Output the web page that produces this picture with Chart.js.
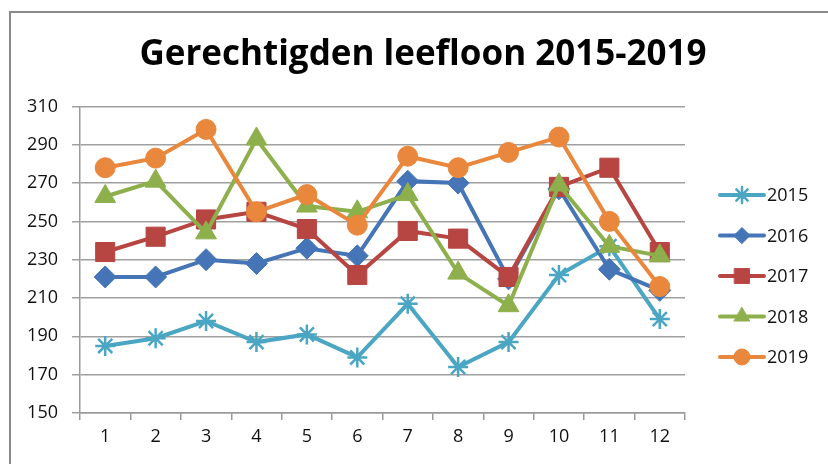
<!DOCTYPE html>
<html>
<head>
<meta charset="utf-8">
<script src="https://cdn.jsdelivr.net/npm/chart.js@4"></script>
<style>
  body { margin: 0; background: #fff; }
  #wrap { position: relative; width: 828px; height: 464px; }
  #frame { position: absolute; left: 9px; top: 11px; right: -10px; bottom: -10px; border-left: 2px solid #8a8a8a; border-top: 2px solid #8a8a8a; }
  canvas { position: absolute; left: 0; top: 0; }
</style>
</head>
<body>
<div id="wrap">
  <div id="frame"></div>
  <canvas id="canvas" width="828" height="464"></canvas>
</div>
<script>
var months = ["1", "2", "3", "4", "5", "6", "7", "8", "9", "10", "11", "12"];
var seriesNames = ["2015", "2016", "2017", "2018", "2019"];
var v2015 = [185, 189, 198, 187, 191, 179, 207, 174, 187, 222, 237, 199];
var v2016 = [221, 221, 230, 228, 236, 232, 271, 270, 220, 267, 225, 214];
var v2017 = [234, 242, 251, 255, 246, 222, 245, 241, 221, 268, 278, 234];
var v2018 = [263, 271, 244, 293, 258, 255, 264, 223, 206, 269, 237, 232];
var v2019 = [278, 283, 298, 255, 264, 248, 284, 278, 286, 294, 250, 216];
var yTicks = [150, 170, 190, 210, 230, 250, 270, 290, 310];
var chartTitle = 'Gerechtigden leefloon 2015-2019';

var colors = ['#4AA6C2', '#4575B6', '#B74542', '#8DB04C', '#E9873C'];
var markers = ['star', 'rectRot', 'rect', 'triangle', 'circle'];
var radii = [10, 11, 13.5, 12, 10];
var legendRadii = [8, 8, 10.5, 9, 8];
var values = [v2015, v2016, v2017, v2018, v2019];

var datasets = seriesNames.map(function (name, i) {
    return {
        label: name,
        data: values[i],
        borderColor: colors[i],
        backgroundColor: colors[i],
        pointBackgroundColor: colors[i],
        pointBorderColor: colors[i],
        pointStyle: markers[i],
        pointRadius: radii[i],
        pointBorderWidth: i == 0 ? 2.5 : 1,
        borderWidth: 4,
        tension: 0,
        order: 5 - i
    };
});

// title drawn by hand so it sits centred like the office chart
var titlePlugin = {
    id: 'bigTitle',
    afterDraw: function (chart) {
        var ctx = chart.ctx;
        ctx.save();
        ctx.fillStyle = '#000';
        ctx.font = 'bold 35px "Open Sans"';
        ctx.textAlign = 'center';
        ctx.textBaseline = 'middle';
        ctx.fillText(chartTitle, 423, 55);
        ctx.restore();
    }
};

// legend drawn as line + marker
var legendPlugin = {
    id: 'lineLegend',
    afterDraw: function (chart) {
        var ctx = chart.ctx;
        ctx.save();
        chart.data.datasets.forEach(function (ds, i) {
            var y = 195 + i * 40.5;
            ctx.strokeStyle = ds.borderColor;
            ctx.lineWidth = 4;
            ctx.lineCap = 'round';
            ctx.beginPath();
            ctx.moveTo(720, y);
            ctx.lineTo(764, y);
            ctx.stroke();
            ctx.fillStyle = ds.backgroundColor;
            ctx.lineWidth = ds.pointBorderWidth;
            Chart.helpers.drawPoint(ctx, { pointStyle: ds.pointStyle, radius: legendRadii[i], borderWidth: ds.pointBorderWidth }, 742, y);
            ctx.fillStyle = '#111';
            ctx.font = '18px "Open Sans"';
            ctx.textBaseline = 'middle';
            ctx.textAlign = 'left';
            ctx.fillText(ds.label, 767, y + 1);
        });
        ctx.restore();
    }
};

var config = {
    type: 'line',
    data: {
        labels: months,
        datasets: datasets
    },
    options: {
        responsive: false,
        animation: false,
        layout: { padding: { left: 0, right: 143, top: 0, bottom: 0 } },
        plugins: {
            legend: { display: false },
            tooltip: { enabled: false },
            title: {
                display: true,
                text: chartTitle,
                color: 'rgba(0,0,0,0)',
                font: { family: '"Open Sans"', size: 32, weight: 'bold', lineHeight: 1.2 },
                padding: { top: 34, bottom: 34 }
            }
        },
        scales: {
            x: {
                offset: true,
                grid: { offset: true, drawOnChartArea: false, drawTicks: true, tickLength: 7, color: '#9a9a9a', lineWidth: 1.5 },
                border: { display: true, color: '#9a9a9a', width: 1.5 },
                ticks: { color: '#111', font: { family: '"Open Sans"', size: 18 }, padding: 6, maxRotation: 0 },
                afterFit: function (scale) { scale.height = 51; }
            },
            y: {
                min: 150,
                max: 310,
                afterBuildTicks: function (scale) {
                    scale.ticks = yTicks.map(function (v) { return { value: v }; });
                },
                grid: { color: '#a0a0a0', lineWidth: 1.5, tickLength: 8 },
                border: { display: true, color: '#9a9a9a', width: 1.5 },
                ticks: { color: '#111', font: { family: '"Open Sans"', size: 18 }, padding: 14 },
                afterFit: function (scale) { scale.width = 80; }
            }
        }
    },
    plugins: [titlePlugin, legendPlugin]
};

var lineChart = new Chart(document.getElementById('canvas'), config);
</script>
</body>
</html>
